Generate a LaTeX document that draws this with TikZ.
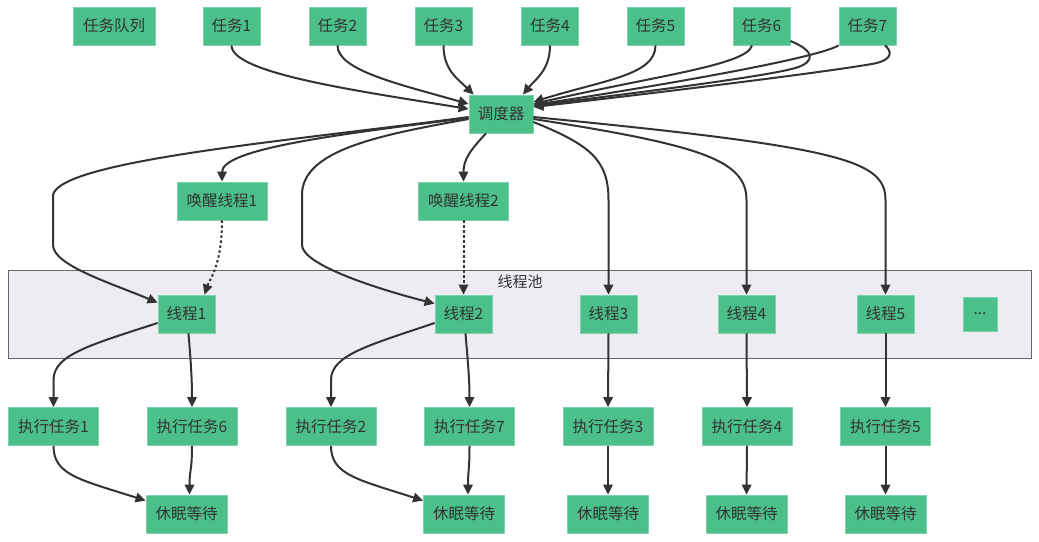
\documentclass[tikz,border=0pt]{standalone}
\usepackage{fontspec}
\newfontfamily\cjk{Noto Sans CJK SC}
\usetikzlibrary{arrows.meta,calc}
\definecolor{boxgreen}{HTML}{4BC08A}
\definecolor{boxedge}{HTML}{7FD4AB}
\definecolor{linec}{HTML}{333333}
\definecolor{poolfill}{HTML}{EDECF3}
\definecolor{pooledge}{HTML}{666666}
\tikzset{
  box/.style={fill=boxgreen, draw=boxedge, line width=0.8pt, minimum height=38pt, inner sep=0pt,
    text=linec, font=\cjk\fontsize{15.5}{18}\selectfont},
  w57/.style={box, minimum width=57pt},
  w64/.style={box, minimum width=64pt},
  w82/.style={box, minimum width=82pt},
  w90/.style={box, minimum width=90pt},
  w81/.style={box, minimum width=81pt},
  conn/.style={draw=linec, line width=2pt, -{Triangle[length=10pt,width=9.5pt]}},
  dconn/.style={conn, dash pattern=on 2.5pt off 2.5pt},
}
\begin{document}
\begin{tikzpicture}[x=1pt,y=-1pt]
\useasboundingbox (0,0) rectangle (1039,541);
% thread pool
\node[fill=poolfill, draw=pooledge, line width=1pt, minimum width=1023pt, minimum height=88pt, inner sep=0pt] (pool) at (519.5,314) {};
\node[text=linec, font=\cjk\fontsize{15}{18}\selectfont, anchor=center] (poollbl) at (520,282) {线程池};
% top row
\node[w82] (q) at (114,26) {任务队列};
\node[w57] (t1) at (231.5,26) {任务1};
\node[w57] (t2) at (337.5,26) {任务2};
\node[w57] (t3) at (443.5,26) {任务3};
\node[w57] (t4) at (550,26) {任务4};
\node[w57] (t5) at (655.5,26) {任务5};
\node[w57] (t6) at (761.5,26) {任务6};
\node[w57] (t7) at (867.5,26) {任务7};
\node[w64] (sch) at (501,114) {调度器};
\node[w90] (w1) at (222,201) {唤醒线程1};
\node[w90] (w2) at (463.5,201) {唤醒线程2};
\node[w57] (th1) at (186.5,314) {线程1};
\node[w57] (th2) at (463.5,314) {线程2};
\node[w57] (th3) at (608.5,314) {线程3};
\node[w57] (th4) at (746.5,314) {线程4};
\node[w57] (th5) at (885.5,314) {线程5};
\node[box, minimum width=34pt, minimum height=34pt] (more) at (980,314) {...};
\node[w90] (e1) at (53.5,426.5) {执行任务1};
\node[w90] (e6) at (192,426.5) {执行任务6};
\node[w90] (e2) at (331,426.5) {执行任务2};
\node[w90] (e7) at (469.5,426.5) {执行任务7};
\node[w90] (e3) at (608,426.5) {执行任务3};
\node[w90] (e4) at (747,426.5) {执行任务4};
\node[w90] (e5) at (885.5,426.5) {执行任务5};
\node[w81] (s1) at (186.5,514) {休眠等待};
\node[w81] (s2) at (464,514) {休眠等待};
\node[w81] (s3) at (608,514) {休眠等待};
\node[w81] (s4) at (746.5,514) {休眠等待};
\node[w81] (s5) at (885.5,514) {休眠等待};
% tasks -> scheduler
\draw[conn] (t1.south) .. controls +(0,28) and +(-110,-18) .. ($(sch.west)+(0,-5)$);
\draw[conn] (t2.south) .. controls +(0,25) and +(-70,-20) .. ($(sch.west)+(0,-10)$);
\draw[conn] (t3.south) .. controls +(0,25) and +(-15,-15) .. ($(sch.north west)+(5,0)$);
\draw[conn] (t4.south) .. controls +(0,25) and +(12,-15) .. ($(sch.north)+(22,0)$);
\draw[conn] (t5.south) .. controls +(0,30) and +(70,-22) .. ($(sch.east)+(0,-12)$);
\draw[conn] ($(t6.south)+(-9.5,0)$) .. controls +(-5,20) and +(120,-28) .. ($(sch.east)+(0,-10)$);
\draw[conn] ($(t6.east)+(0,15)$) .. controls +(25,10) and +(20,-6) .. ($(t6.east)+(5,42)$) .. controls +(-35,10) and +(67,-9) .. ($(sch.east)+(0,-8)$);
\draw[conn] (t7.south west) .. controls +(-20,12) and +(150,-23) .. ($(sch.east)+(0,-9)$);
\draw[conn] ($(t7.south)+(17.5,0)$) .. controls +(7,6) and +(18,-4) .. ($(t7.south)+(7.5,18)$) .. controls +(-55,10) and +(87,-10) .. ($(sch.east)+(0,-7)$);
% scheduler -> threads / wake
\draw[conn] ($(sch.west)+(0,3)$) .. controls +(-169,23) and +(7,-35) .. (53,195) -- (53,245) .. controls +(0,20) and +(-48,-20) .. ($(th1.north west)+(0,8)$);
\draw[conn] ($(sch.west)+(0,4)$) .. controls +(-139,17) and +(0,-32) .. (w1.north);
\draw[conn] ($(sch.west)+(0,5)$) .. controls +(-89,16) and +(0,-45) .. (302,195) -- (302,245) .. controls +(0,20) and +(-55,-14) .. ($(th2.north west)+(0,9)$);
\draw[conn] ($(sch.south)+(-15,0)$) .. controls +(-16,17) and +(0,-22) .. (w2.north);
\draw[conn] ($(sch.east)+(0,8)$) .. controls +(57,23) and +(0,-40) .. (608.5,200) -- (th3.north);
\draw[conn] ($(sch.east)+(0,5)$) .. controls +(167,26) and +(0,-40) .. (746.5,200) -- (th4.north);
\draw[conn] ($(sch.east)+(0,3)$) .. controls +(307,30) and +(0,-40) .. (885.5,200) -- (th5.north);
% dashed wake
\draw[dconn] (w1.south) .. controls +(0,45) and +(5,-15) .. ($(th1.north)+(18,0)$);
\draw[dconn] (w2.south) -- (th2.north);
% threads -> exec
\draw[conn] ($(th1.west)+(0,9)$) .. controls +(-68,22) and +(0,-25) .. (53.5,380) -- (e1.north);
\draw[conn] ($(th1.south)+(2,0)$) .. controls +(2,25) and +(0,-30) .. (e6.north);
\draw[conn] ($(th2.west)+(0,9)$) .. controls +(-65,22) and +(0,-25) .. (331,380) -- (e2.north);
\draw[conn] ($(th2.south)+(2,0)$) .. controls +(2,25) and +(0,-30) .. (e7.north);
\draw[conn] (th3.south) -- (e3.north);
\draw[conn] (th4.south) -- (e4.north);
\draw[conn] (th5.south) -- (e5.north);
% exec -> sleep
\draw[conn] (e1.south) .. controls +(0,29) and +(-66,-21) .. ($(s1.north west)+(0,6)$);
\draw[conn] (e6.south) .. controls +(0,25) and +(0,-25) .. ($(s1.north)+(3,0)$);
\draw[conn] (e2.south) .. controls +(0,29) and +(-65,-21) .. ($(s2.north west)+(0,6)$);
\draw[conn] (e7.south) .. controls +(0,25) and +(0,-25) .. ($(s2.north)+(4,0)$);
\draw[conn] (e3.south) -- (s3.north);
\draw[conn] (e4.south) -- (s4.north);
\draw[conn] (e5.south) -- (s5.north);
\end{tikzpicture}
\end{document}
